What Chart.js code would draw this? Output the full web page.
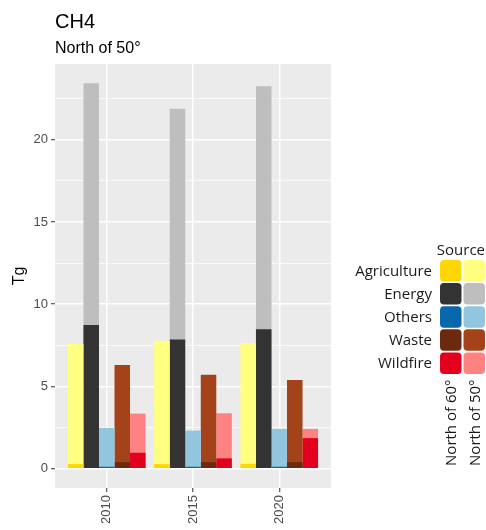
<!DOCTYPE html>
<html>
<head>
<meta charset="utf-8">
<script src="https://cdn.jsdelivr.net/npm/chart.js@4/dist/chart.umd.min.js"></script>
<style>
  html, body { margin: 0; padding: 0; background: #ffffff; }
  canvas { display: block; }
</style>
</head>
<body>
<canvas id="c" width="486" height="530"></canvas>
<script>
// Categories and tick labels
const years = ['2010', '2015', '2020'];
const sources = ['Agriculture', 'Energy', 'Others', 'Waste', 'Wildfire'];
const regions = ['North of 60°', 'North of 50°'];
const yTicks = [0, 5, 10, 15, 20];

// CH4 emissions (Tg) by source, for 2010 / 2015 / 2020
const agricultureN60 = [0.28, 0.28, 0.30];
const agricultureN50 = [7.58, 7.78, 7.64];
const energyN60 = [8.73, 7.86, 8.48];
const energyN50 = [23.43, 21.88, 23.25];
const othersN60 = [0.12, 0.12, 0.12];
const othersN50 = [2.48, 2.32, 2.42];
const wasteN60 = [0.40, 0.40, 0.40];
const wasteN50 = [6.30, 5.72, 5.39];
const wildfireN60 = [0.97, 0.63, 1.86];
const wildfireN50 = [3.35, 3.37, 2.42];

const seriesN60 = [agricultureN60, energyN60, othersN60, wasteN60, wildfireN60];
const seriesN50 = [agricultureN50, energyN50, othersN50, wasteN50, wildfireN50];

const colorsN60 = ['#FFD700', '#333333', '#0866AC', '#6B2A10', '#E2001E'];
const colorsN50 = ['#FFFF80', '#BEBEBE', '#92C5DE', '#A4431A', '#FF8282'];

// One column per source; the north-of-60 bar is overlaid on the north-of-50 bar
const datasets = [];
sources.forEach((src, i) => {
  datasets.push({
    label: src + ' ' + regions[0],
    stack: src,
    data: seriesN60[i].map((v, j) => ({ x: j + 1, y: v })),
    backgroundColor: colorsN60[i]
  });
  datasets.push({
    label: src + ' ' + regions[1],
    stack: src,
    data: seriesN50[i].map((v, j) => ({ x: j + 1, y: v })),
    backgroundColor: colorsN50[i]
  });
});

const yMax = Math.max(...seriesN50.flat(), ...seriesN60.flat());
const yMinorTicks = yTicks.map(v => v + 2.5).filter(v => v < yMax * 1.05);

const panelBackground = {
  id: 'panelBackground',
  beforeDraw(chart) {
    const { ctx, chartArea: a } = chart;
    ctx.save();
    ctx.fillStyle = '#EBEBEB';
    ctx.fillRect(a.left, a.top, a.right - a.left, a.bottom - a.top);
    ctx.restore();
  }
};

const headings = {
  id: 'headings',
  afterDraw(chart) {
    const { ctx, chartArea: a } = chart;
    ctx.save();
    ctx.fillStyle = '#000000';
    ctx.textAlign = 'left';
    ctx.textBaseline = 'alphabetic';
    ctx.font = '20px "Liberation Sans", Arial, sans-serif';
    ctx.fillText('CH4', a.left, 28);
    ctx.font = '16px "Liberation Sans", Arial, sans-serif';
    ctx.fillText('North of 50°', a.left, 52.5);
    ctx.restore();
  }
};

const sourceLegend = {
  id: 'sourceLegend',
  afterDraw(chart) {
    const { ctx } = chart;
    const colX = [440, 463.5];
    const keySize = 21.5;
    const top0 = 260;
    const pitch = 23.1;
    const labelRight = 432;
    ctx.save();
    ctx.fillStyle = '#1a1a1a';
    ctx.font = '15px "Open Sans", sans-serif';
    ctx.textAlign = 'right';
    ctx.textBaseline = 'alphabetic';
    ctx.fillText('Source', 485, 255);
    sources.forEach((src, i) => {
      const y = top0 + i * pitch;
      [colorsN60[i], colorsN50[i]].forEach((col, k) => {
        ctx.fillStyle = col;
        ctx.beginPath();
        ctx.roundRect(colX[k], y, keySize, keySize, 4);
        ctx.fill();
      });
      ctx.fillStyle = '#1a1a1a';
      ctx.textAlign = 'right';
      ctx.textBaseline = 'middle';
      ctx.fillText(src, labelRight, y + keySize / 2 + 1);
    });
    regions.forEach((r, k) => {
      ctx.save();
      ctx.translate(colX[k] + keySize / 2, top0 + sources.length * pitch + 4);
      ctx.rotate(-Math.PI / 2);
      ctx.fillStyle = '#1a1a1a';
      ctx.textAlign = 'right';
      ctx.textBaseline = 'middle';
      ctx.fillText(r, 0, 1);
      ctx.restore();
    });
    ctx.restore();
  }
};

new Chart(document.getElementById('c'), {
  type: 'bar',
  data: { datasets },
  plugins: [panelBackground, headings, sourceLegend],
  options: {
    responsive: false,
    animation: false,
    events: [],
    layout: { padding: { top: 64, right: 155, left: 0, bottom: 0 } },
    datasets: {
      bar: { categoryPercentage: 0.9, barPercentage: 1.0, borderWidth: 0 }
    },
    plugins: {
      legend: { display: false },
      title: { display: false },
      tooltip: { enabled: false }
    },
    scales: {
      x: {
        type: 'linear',
        stacked: true,
        offset: false,
        min: 0.4,
        max: years.length + 0.6,
        afterBuildTicks: s => { s.ticks = years.map((_, i) => ({ value: i + 1 })); },
        afterFit: s => { s.height = 42; },
        border: { display: false },
        grid: { offset: false, color: '#FFFFFF', lineWidth: 1.5, tickColor: '#333333', tickLength: 4, tickWidth: 1 },
        ticks: {
          autoSkip: false,
          minRotation: 90,
          maxRotation: 90,
          padding: 3,
          color: '#4D4D4D',
          font: { family: '"Liberation Sans", Arial, sans-serif', size: 13 },
          callback: v => years[v - 1]
        }
      },
      y: {
        stacked: false,
        min: -0.05 * yMax,
        max: 1.05 * yMax,
        afterBuildTicks: s => {
          s.ticks = yTicks.concat(yMinorTicks).sort((a, b) => a - b).map(v => ({ value: v }));
        },
        afterFit: s => { s.width = 55; },
        border: { display: false },
        grid: {
          color: '#FFFFFF',
          lineWidth: c => (yTicks.includes(c.tick.value) ? 1.5 : 0.75),
          tickColor: c => (yTicks.includes(c.tick.value) ? '#333333' : 'rgba(0,0,0,0)'),
          tickLength: 4,
          tickWidth: 1
        },
        ticks: {
          autoSkip: false,
          padding: 3,
          color: '#4D4D4D',
          font: { family: '"Liberation Sans", Arial, sans-serif', size: 13 },
          callback: v => (yTicks.includes(v) ? String(v) : '')
        },
        title: {
          display: true,
          text: 'Tg',
          color: '#000000',
          font: { family: '"Liberation Sans", Arial, sans-serif', size: 16 },
          padding: { top: 10, bottom: 0 }
        }
      }
    }
  }
});
</script>
</body>
</html>
